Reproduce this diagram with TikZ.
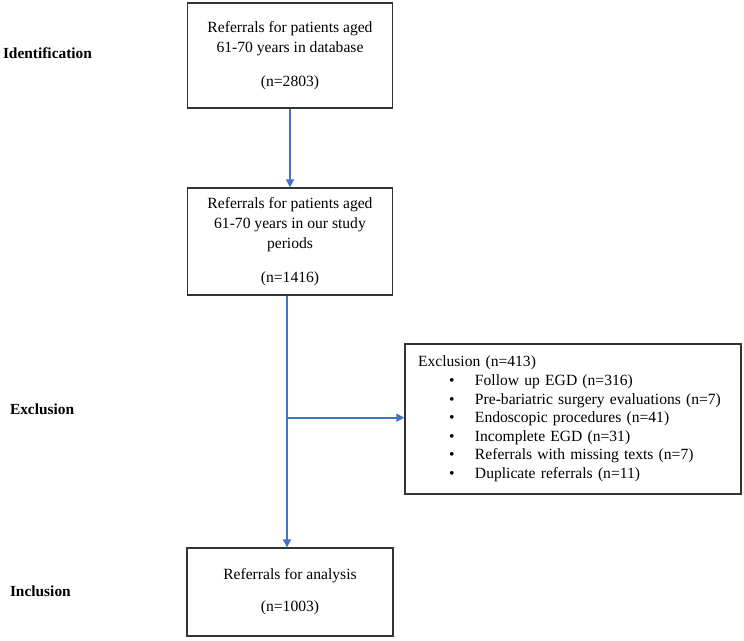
\documentclass[tikz,border=0pt]{standalone}
\usepackage{fontspec}
\setmainfont{Liberation Serif}
\usetikzlibrary{positioning, arrows.meta, calc}
\definecolor{flowblue}{RGB}{68,114,196}
\tikzset{arrow/.style={-{Triangle[length=8pt,width=8pt]}, draw=flowblue, line width=1.7pt}}
\begin{document}
\begin{tikzpicture}[x=1pt,y=-1pt]
		\tikzstyle{box} = [draw=black!80, line width=1.3pt, inner sep=0, text centered, font=\fontsize{15.6}{20}\selectfont]
		\tikzstyle{line} = [draw=flowblue, line width=1.7pt]
		\tikzstyle{invisible} = [outer sep=0,inner sep=0,minimum size=0]
		\tikzstyle{stage} = [invisible, anchor=west, font=\fontsize{15.4}{18}\selectfont\bfseries]
		\useasboundingbox (0,0) rectangle (744,640);
		\node [box, minimum width=205pt, minimum height=105pt, align=center] (v1) at (290,55.5) {Referrals for patients aged\\61-70 years in database\\[14pt](n=2803)};
		\node [box, minimum width=205pt, minimum height=107pt, align=center] (v2) at (290,241.5) {Referrals for patients aged\\61-70 years in our study\\periods\\[14pt](n=1416)};
		\node [box, minimum width=206pt, minimum height=88pt, align=center] (v3) at (290,592) {Referrals for analysis\\[12pt](n=1003)};
		\node [box, minimum width=336pt, minimum height=150pt, text width=310pt, align=left, font=\fontsize{15.6}{18.6}\selectfont] (v4) at (573,419) {Exclusion (n=413)\\
			\makebox[57pt][l]{\hspace{31pt}\textbullet}Follow up EGD (n=316)\\
			\makebox[57pt][l]{\hspace{31pt}\textbullet}Pre-bariatric surgery evaluations (n=7)\\
			\makebox[57pt][l]{\hspace{31pt}\textbullet}Endoscopic procedures (n=41)\\
			\makebox[57pt][l]{\hspace{31pt}\textbullet}Incomplete EGD (n=31)\\
			\makebox[57pt][l]{\hspace{31pt}\textbullet}Referrals with missing texts (n=7)\\
			\makebox[57pt][l]{\hspace{31pt}\textbullet}Duplicate referrals (n=11)};
		\node [stage] (v5) at (3,53) {Identification};
		\node [stage] (v6) at (10,409) {Exclusion};
		\node [stage] (v7) at (10,591) {Inclusion};
		\coordinate (v8) at ($(v2.south)+(-3,0)$);
		\coordinate (v9) at ($(v8)+(0,122)$);
		\draw [arrow] (v1) -- (v2);
		\draw [arrow] (v8) -- (v8 |- v3.north);
		\draw [line] (v9) -- (v8);
		\draw [arrow] (v9) -- (v9 -| v4.west);
\end{tikzpicture}
\end{document}
